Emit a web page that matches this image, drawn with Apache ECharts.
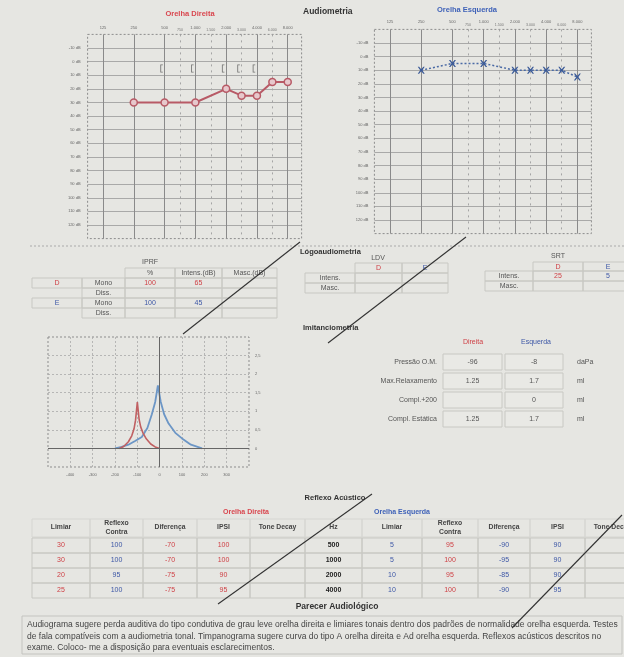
<!DOCTYPE html>
<html>
<head>
<meta charset="utf-8">
<script src="https://cdn.jsdelivr.net/npm/echarts@6/dist/echarts.min.js"></script>
<style>
html, body { margin: 0; padding: 0; background: #e6e6e2; }
#main { width: 624px; height: 657px; }
</style>
</head>
<body>
<div id="main"></div>
<script>
// ---- audiometria tonal ----
const freqMain = [125, 250, 500, 1000, 2000, 4000, 8000];
const freqMid = [750, 1500, 3000, 6000];
const freqHz = [250, 500, 1000, 2000, 3000, 4000, 6000, 8000];
const odAerea = [30, 30, 30, 20, 25, 25, 15, 15];
const oeAerea = [10, 5, 5, 10, 10, 10, 10, 15];
const odOsseaHz = [500, 1000, 2000, 3000, 4000];
const odOssea = [5, 5, 5, 5, 5];

// ---- timpanograma ----
const odPressao = [-180, -160, -140, -125, -115, -108, -100, -92, -85, -75, -60, -40, -20, 0];
const odCompl = [0, 0.06, 0.18, 0.34, 0.52, 0.76, 1.25, 0.78, 0.58, 0.42, 0.26, 0.12, 0.04, 0];
const oePressao = [-200, -170, -140, -110, -80, -55, -35, -20, -8, 5, 20, 40, 70, 100, 140, 190];
const oeCompl = [0, 0.04, 0.1, 0.2, 0.31, 0.55, 0.92, 1.25, 1.7, 1.25, 0.92, 0.67, 0.42, 0.27, 0.1, 0];

// ---- logoaudiometria ----
const iprfOuvido = ['D', '', 'E', ''];
const iprfTipo = ['Mono', 'Diss.', 'Mono', 'Diss.'];
const iprfPerc = ['100', '', '100', ''];
const iprfIntens = ['65', '', '45', ''];
const iprfMasc = ['', '', '', ''];
const ldvIntens = ['', ''];
const ldvMasc = ['', ''];
const srtIntens = ['25', '5'];
const srtMasc = ['', ''];

// ---- imitanciometria ----
const imitLabels = ['Pressão O.M.', 'Max.Relaxamento', 'Compl.+200', 'Compl. Estática'];
const imitOD = ['-96', '1.25', '', '1.25'];
const imitOE = ['-8', '1.7', '0', '1.7'];
const imitUnid = ['daPa', 'ml', 'ml', 'ml'];

// ---- reflexo acustico ----
const reflHz = ['500', '1000', '2000', '4000'];
const odLimiar = ['30', '30', '20', '25'];
const odContra = ['100', '100', '95', '100'];
const odDif = ['-70', '-70', '-75', '-75'];
const odIpsi = ['100', '100', '90', '95'];
const oeLimiar = ['5', '5', '10', '10'];
const oeContra = ['95', '100', '95', '100'];
const oeDif = ['-90', '-95', '-85', '-90'];
const oeIpsi = ['90', '90', '90', '95'];

const parecer = [
    'Audiograma sugere perda auditiva do tipo condutiva de grau leve orelha direita e limiares tonais dentro dos padrões de normalidade orelha esquerda. Testes',
    'de fala compatíveis com a audiometria tonal. Timpanograma sugere curva do tipo A orelha direita e Ad orelha esquerda. Reflexos acústicos descritos no',
    'exame. Coloco- me a disposição para eventuais esclarecimentos.'
];

const RED = '#cf4146';
const BLUE = '#3d57a6';
const GREY = '#555';
const FONT = 'Liberation Sans, Arial, sans-serif';

// posicao no eixo (oitavas a partir de 125 Hz, intermediarias no meio)
function oct(f) {
    let i = freqMain.indexOf(f);
    if (i >= 0) return i;
    return freqMain.indexOf(f / 1.5) + 0.5;
}
function fmtFreq(f) {
    if (f < 1000) return String(f);
    return Math.floor(f / 1000) + '.' + String(f % 1000).padStart(3, '0');
}

// grades dos audiogramas
const g0 = { left: 87.6, top: 34.4, width: 214, height: 204.2 };
const g1 = { left: 374.4, top: 29.4, width: 217, height: 204.2 };
const g2 = { left: 48, top: 337, width: 201, height: 130 };

function audioX(g, mainMargin, midMargin) {
    return [
        {
            gridIndex: g, type: 'value', position: 'top', min: -0.5, max: 6.45,
            axisLine: { show: false },
            axisTick: { show: false, customValues: freqMain.map(oct) },
            axisLabel: {
                customValues: freqMain.map(oct), fontSize: 4, color: '#666', margin: mainMargin,
                formatter: v => fmtFreq(freqMain[Math.round(v)])
            },
            splitLine: { show: true, lineStyle: { color: '#8a8a8a', width: 1 } }
        },
        {
            gridIndex: g, type: 'value', position: 'top', min: -0.5, max: 6.45,
            axisLine: { show: false },
            axisTick: { show: false, customValues: freqMid.map(oct) },
            axisLabel: {
                customValues: freqMid.map(oct), fontSize: 3.6, color: '#777', margin: midMargin,
                formatter: v => fmtFreq(freqMid[Math.round(v - 2.5)])
            },
            splitLine: { show: true, lineStyle: { color: '#a5a5a5', width: 1, type: [2, 4] } }
        }
    ];
}
function audioY(g, margin) {
    return {
        gridIndex: g, type: 'value', inverse: true, min: -20, max: 130, interval: 10,
        axisLine: { show: false }, axisTick: { show: false },
        axisLabel: {
            fontSize: 4, color: '#666', margin: margin,
            formatter: v => (v < -10 || v > 120) ? '' : v + ' dB'
        },
        splitLine: { show: true, showMinLine: false, showMaxLine: false, lineStyle: { color: '#999', width: 0.8 } }
    };
}

// ---- elementos graficos (tabelas e textos) ----
const gr = [];
function txt(x, y, s, o) {
    gr.push({
        type: 'text', x: x, y: y, silent: true,
        style: Object.assign({ text: s, fontSize: 7, fill: GREY, align: 'center', verticalAlign: 'middle', fontFamily: FONT }, o || {})
    });
}
function box(x, y, w, h, o) {
    gr.push({
        type: 'rect', silent: true, shape: { x: x, y: y, width: w, height: h },
        style: Object.assign({ fill: 'none', stroke: '#c8c8c3', lineWidth: 1 }, o || {})
    });
}
function seg(x1, y1, x2, y2, o) {
    gr.push({
        type: 'line', silent: true, shape: { x1: x1, y1: y1, x2: x2, y2: y2 },
        style: Object.assign({ stroke: '#333', lineWidth: 1.1 }, o || {})
    });
}

// titulos audiometria
txt(190, 14, 'Orelha Direita', { fill: '#d9464e', fontWeight: 'bold', fontSize: 7.5 });
txt(467, 10, 'Orelha Esquerda', { fill: '#3f62b8', fontWeight: 'bold', fontSize: 7.5 });
txt(303, 12, 'Audiometria', { fill: '#333', fontWeight: 'bold', fontSize: 8.5, align: 'left' });
[g0, g1, g2].forEach(g => box(g.left, g.top, g.width, g.height, { stroke: '#8d8d8d', lineDash: [2, 2] }));
seg(30, 246, 624, 246, { stroke: '#aaa', lineDash: [2, 2], lineWidth: 1 });

// logoaudiometria - IPRF
txt(300, 252, 'Lógoaudiometria', { fill: '#333', fontWeight: 'bold', fontSize: 7.5, align: 'left' });
const ix = [32, 82, 125, 175, 222, 277];
txt(150, 262, 'IPRF');
['%', 'Intens.(dB)', 'Masc.(dB)'].forEach((h, i) => {
    box(ix[i + 2], 268, ix[i + 3] - ix[i + 2], 10);
    txt((ix[i + 2] + ix[i + 3]) / 2, 273, h);
});
iprfTipo.forEach((t, r) => {
    const y = 278 + r * 10;
    const col = r < 2 ? RED : BLUE;
    if (iprfOuvido[r]) {
        box(ix[0], y, ix[1] - ix[0], 10);
        txt((ix[0] + ix[1]) / 2, y + 5, iprfOuvido[r], { fill: col });
    }
    const vals = [t, iprfPerc[r], iprfIntens[r], iprfMasc[r]];
    vals.forEach((v, c) => {
        box(ix[c + 1], y, ix[c + 2] - ix[c + 1], 10);
        txt((ix[c + 1] + ix[c + 2]) / 2, y + 5, v, { fill: c === 0 ? GREY : col });
    });
});

// LDV
const lx = [305, 355, 402, 448];
txt(378, 258, 'LDV');
box(lx[1], 263, lx[2] - lx[1], 10); txt((lx[1] + lx[2]) / 2, 268, 'D', { fill: RED });
box(lx[2], 263, lx[3] - lx[2], 10); txt((lx[2] + lx[3]) / 2, 268, 'E', { fill: BLUE });
[['Intens.', ldvIntens], ['Masc.', ldvMasc]].forEach((row, r) => {
    const y = 273 + r * 10;
    box(lx[0], y, lx[1] - lx[0], 10); txt((lx[0] + lx[1]) / 2, y + 5, row[0]);
    row[1].forEach((v, c) => {
        box(lx[c + 1], y, lx[c + 2] - lx[c + 1], 10);
        txt((lx[c + 1] + lx[c + 2]) / 2, y + 5, v, { fill: c === 0 ? RED : BLUE });
    });
});

// SRT
const sx = [485, 533, 583, 633];
txt(558, 256, 'SRT');
box(sx[1], 262, sx[2] - sx[1], 9); txt((sx[1] + sx[2]) / 2, 267, 'D', { fill: RED });
box(sx[2], 262, sx[3] - sx[2], 9); txt((sx[2] + sx[3]) / 2, 267, 'E', { fill: BLUE });
[['Intens.', srtIntens], ['Masc.', srtMasc]].forEach((row, r) => {
    const y = 271 + r * 10;
    box(sx[0], y, sx[1] - sx[0], 10); txt((sx[0] + sx[1]) / 2, y + 5, row[0]);
    row[1].forEach((v, c) => {
        box(sx[c + 1], y, sx[c + 2] - sx[c + 1], 10);
        txt((sx[c + 1] + sx[c + 2]) / 2, y + 5, v, { fill: c === 0 ? RED : BLUE });
    });
});

// imitanciometria
txt(303, 328, 'Imitanciometria', { fill: '#333', fontWeight: 'bold', fontSize: 7.5, align: 'left' });
txt(473, 342, 'Direita', { fill: RED });
txt(536, 342, 'Esquerda', { fill: BLUE });
imitLabels.forEach((l, r) => {
    const y = 362 + r * 19;
    txt(437, y, l, { align: 'right' });
    box(443, y - 8, 59, 16, { fill: '#e9e9e5' });
    box(505, y - 8, 58, 16, { fill: '#e9e9e5' });
    txt(472.5, y, imitOD[r]);
    txt(534, y, imitOE[r]);
    txt(577, y, imitUnid[r], { align: 'left' });
});

// reflexo acustico
txt(335, 498, 'Reflexo Acústico', { fill: '#333', fontWeight: 'bold', fontSize: 7.5 });
txt(246, 512, 'Orelha Direita', { fill: '#d9464e', fontWeight: 'bold', fontSize: 7 });
txt(402, 512, 'Orelha Esquerda', { fill: '#3f62b8', fontWeight: 'bold', fontSize: 7 });
const rl = [32, 90, 143, 197, 250, 305, 362, 422, 478, 530, 585, 640];
const heads = ['Limiar', 'Reflexo\nContra', 'Diferença', 'IPSI', 'Tone Decay', 'Hz',
    'Limiar', 'Reflexo\nContra', 'Diferença', 'IPSI', 'Tone Decay'];
heads.forEach((h, c) => {
    box(rl[c], 519, rl[c + 1] - rl[c], 18, { stroke: '#d6d6d2' });
    txt((rl[c] + rl[c + 1]) / 2, 527.5, h, { fill: '#444', fontWeight: 'bold', fontSize: 6.8, lineHeight: 8.5 });
});
const cols = [
    [odLimiar, RED], [odContra, BLUE], [odDif, RED], [odIpsi, RED], [['', '', '', ''], RED],
    [reflHz, '#222'],
    [oeLimiar, BLUE], [oeContra, RED], [oeDif, BLUE], [oeIpsi, BLUE], [['', '', '', ''], BLUE]
];
reflHz.forEach((hz, r) => {
    const y = 538 + r * 15;
    cols.forEach((cd, c) => {
        box(rl[c], y, rl[c + 1] - rl[c], 15);
        txt((rl[c] + rl[c + 1]) / 2, y + 7.5, cd[0][r], { fill: cd[1], fontWeight: c === 5 ? 'bold' : 'normal' });
    });
});

// parecer
txt(337, 607, 'Parecer Audiológico', { fill: '#333', fontWeight: 'bold', fontSize: 8.5 });
box(22, 616, 600, 38, { stroke: '#c4c4c0' });
parecer.forEach((l, i) => txt(27, 625 + i * 11.5, l, { align: 'left', fontSize: 8.5, fill: '#444' }));

// riscos de caneta
seg(183, 334, 300, 242);
seg(328, 343, 466, 237);
seg(218, 604, 372, 494);
seg(512, 628, 622, 515);

const chart = echarts.init(document.getElementById('main'));
const option = {
    animation: false,
    backgroundColor: '#e6e6e2',
    textStyle: { fontFamily: FONT },
    grid: [
        Object.assign({ show: false }, g0),
        Object.assign({ show: false }, g1),
        Object.assign({ show: false }, g2)
    ],
    xAxis: [
        ...audioX(0, 5, 2.5),
        ...audioX(1, 6, 2),
        {
            gridIndex: 2, type: 'value', min: -500, max: 400, interval: 100,
            axisLine: { show: false }, axisTick: { show: false },
            axisLabel: { fontSize: 4, color: '#666', margin: 6, formatter: v => (v <= -500 || v >= 400) ? '' : String(v) },
            splitLine: { show: true, showMinLine: false, showMaxLine: false, lineStyle: { color: '#aaa', type: [2, 2], width: 0.8 } }
        }
    ],
    yAxis: [
        audioY(0, 7),
        audioY(1, 6),
        {
            gridIndex: 2, type: 'value', position: 'right', min: -0.5, max: 3, interval: 0.5,
            axisLine: { show: false }, axisTick: { show: false },
            axisLabel: { fontSize: 4, color: '#666', margin: 6, formatter: v => (v < 0 || v > 2.5) ? '' : String(v).replace('.', ',') },
            splitLine: { show: true, showMinLine: false, showMaxLine: false, lineStyle: { color: '#aaa', type: [2, 2], width: 0.8 } }
        }
    ],
    series: [
        {
            name: 'OD via aérea', type: 'line', xAxisIndex: 0, yAxisIndex: 0,
            data: freqHz.map((f, i) => [oct(f), odAerea[i]]),
            symbol: 'circle', symbolSize: 7,
            lineStyle: { color: '#b85a66', width: 2 },
            itemStyle: { color: '#e7c8cc', borderColor: '#b85a66', borderWidth: 1.5 },
            z: 5
        },
        {
            name: 'OD via óssea', type: 'scatter', xAxisIndex: 0, yAxisIndex: 0,
            data: odOsseaHz.map((f, i) => [oct(f), odOssea[i]]),
            symbol: 'path://M0,0H3V1H1V9H3V10H0Z', symbolSize: [2.5, 8], symbolOffset: [-3, 0],
            itemStyle: { color: '#555' }
        },
        {
            name: 'OE via aérea', type: 'line', xAxisIndex: 2, yAxisIndex: 1,
            data: freqHz.map((f, i) => [oct(f), oeAerea[i]]),
            symbol: 'path://M0,0L2,0L5,3.5L8,0L10,0L6.5,5L10,10L8,10L5,6.5L2,10L0,10L3.5,5Z', symbolSize: 7,
            lineStyle: { color: '#4a6aa5', width: 1.5, type: [2, 2] },
            itemStyle: { color: '#3a5a98' },
            z: 5
        },
        {
            name: 'Timp OD', type: 'line', xAxisIndex: 4, yAxisIndex: 2,
            data: odPressao.map((p, i) => [p, odCompl[i]]),
            symbol: 'none', lineStyle: { color: '#c06062', width: 1.6 }, z: 4
        },
        {
            name: 'Timp OE', type: 'line', xAxisIndex: 4, yAxisIndex: 2,
            data: oePressao.map((p, i) => [p, oeCompl[i]]),
            symbol: 'none', lineStyle: { color: '#6c96c6', width: 1.8 }, z: 3,
            markLine: {
                silent: true, symbol: 'none', label: { show: false },
                lineStyle: { color: '#666', width: 1, type: 'solid' },
                data: [{ yAxis: 0 }, { xAxis: 0 }]
            }
        }
    ],
    graphic: gr
};
chart.setOption(option);
</script>
</body>
</html>
